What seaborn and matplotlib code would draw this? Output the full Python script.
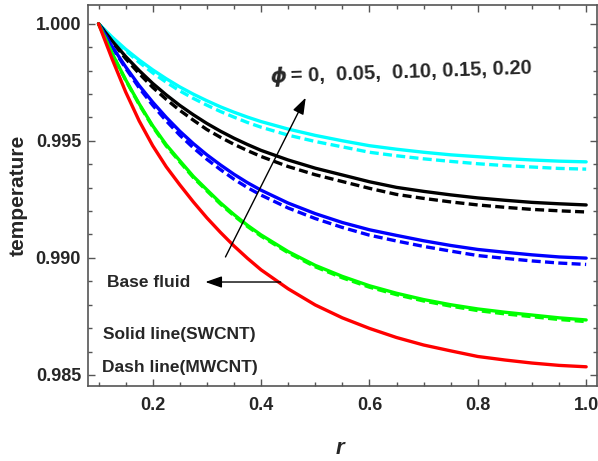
import numpy as np
import pandas as pd
import matplotlib
matplotlib.use("Agg")
import matplotlib.pyplot as plt
from matplotlib.ticker import MultipleLocator, FormatStrFormatter
import seaborn as sns

# dados
r = [0.100, 0.125, 0.150, 0.175, 0.200, 0.225, 0.250, 0.275, 0.300, 0.325, 0.350, 0.375,
     0.40, 0.45, 0.50, 0.55, 0.60, 0.65, 0.70, 0.75, 0.80, 0.85, 0.90, 0.95, 1.00]

base_fluid = [1.0, 0.99850, 0.99709, 0.99585, 0.99479, 0.99389, 0.99312, 0.99239, 0.99171, 0.99109,
              0.99051, 0.98998, 0.98949, 0.98868, 0.98799, 0.98744, 0.98699, 0.98660, 0.98628,
              0.98603, 0.98579, 0.98564, 0.98551, 0.98541, 0.98535]

green_swcnt = [1.0, 0.99874, 0.99761, 0.99658, 0.99564, 0.99483, 0.99415, 0.99348, 0.99291, 0.99235,
               0.99185, 0.99139, 0.99098, 0.99027, 0.98968, 0.98921, 0.98881, 0.98849, 0.98822,
               0.98800, 0.98782, 0.98768, 0.98756, 0.98744, 0.98735]
green_mwcnt = [1.0, 0.99872, 0.99759, 0.99655, 0.99560, 0.99478, 0.99410, 0.99343, 0.99286, 0.99230,
               0.99180, 0.99134, 0.99093, 0.99022, 0.98962, 0.98915, 0.98875, 0.98843, 0.98816,
               0.98794, 0.98775, 0.98761, 0.98749, 0.98737, 0.98728]

blue_swcnt = [1.0, 0.99903, 0.99816, 0.99736, 0.99665, 0.99600, 0.99541, 0.99488, 0.99440, 0.99397,
              0.99357, 0.99321, 0.99289, 0.99234, 0.99189, 0.99151, 0.99120, 0.99096, 0.99073,
              0.99053, 0.99036, 0.99024, 0.99013, 0.99004, 0.98999]
blue_mwcnt = [1.0, 0.99900, 0.99810, 0.99726, 0.99652, 0.99585, 0.99524, 0.99470, 0.99421, 0.99377,
              0.99336, 0.99300, 0.99268, 0.99213, 0.99168, 0.99130, 0.99097, 0.99072, 0.99049,
              0.99029, 0.99010, 0.98998, 0.98987, 0.98978, 0.98972]

black_swcnt = [1.0, 0.99927, 0.99860, 0.99800, 0.99745, 0.99696, 0.99651, 0.99611, 0.99574, 0.99541,
               0.99511, 0.99484, 0.99459, 0.99418, 0.99383, 0.99354, 0.99325, 0.99301, 0.99284,
               0.99269, 0.99256, 0.99246, 0.99237, 0.99231, 0.99226]
black_mwcnt = [1.0, 0.99923, 0.99851, 0.99787, 0.99728, 0.99677, 0.99630, 0.99588, 0.99548, 0.99515,
               0.99485, 0.99458, 0.99433, 0.99390, 0.99355, 0.99326, 0.99297, 0.99271, 0.99254,
               0.99239, 0.99226, 0.99216, 0.99207, 0.99201, 0.99196]

cyan_swcnt = [1.0, 0.99943, 0.99891, 0.99845, 0.99803, 0.99765, 0.99730, 0.99699, 0.99671, 0.99645,
              0.99622, 0.99601, 0.99582, 0.99550, 0.99523, 0.99500, 0.99479, 0.99464, 0.99451,
              0.99440, 0.99432, 0.99424, 0.99418, 0.99413, 0.99410]
cyan_mwcnt = [1.0, 0.99940, 0.99885, 0.99835, 0.99790, 0.99750, 0.99713, 0.99681, 0.99652, 0.99625,
              0.99601, 0.99578, 0.99558, 0.99524, 0.99497, 0.99474, 0.99451, 0.99436, 0.99423,
              0.99412, 0.99402, 0.99394, 0.99388, 0.99382, 0.99379]

y_ticks = [0.985, 0.990, 0.995, 1.000]
x_ticks = [0.2, 0.4, 0.6, 0.8, 1.0]

sns.set_style("ticks")
plt.rcParams['font.family'] = ['Liberation Sans', 'DejaVu Sans']
plt.rcParams['font.weight'] = 'bold'

fig = plt.figure(figsize=(5.98, 4.61), dpi=100)
ax = fig.add_axes([88 / 598, 1 - 386 / 461, (597 - 88) / 598, (386 - 4.7) / 461])

curves = [
    (cyan_swcnt, cyan_mwcnt, '#00FFFF'),
    (black_swcnt, black_mwcnt, '#000000'),
    (blue_swcnt, blue_mwcnt, '#0000FF'),
    (green_swcnt, green_mwcnt, '#00FF00'),
]
lw = 2.4
for solid, dash, cor in curves:
    sns.lineplot(x=r, y=solid, color=cor, linewidth=lw, ax=ax, sort=False)
    sns.lineplot(x=r, y=dash, color=cor, linewidth=lw, ax=ax, sort=False)
    ax.lines[-1].set_dashes([2.7, 1.3])
sns.lineplot(x=r, y=base_fluid, color='#FF0000', linewidth=lw, ax=ax, sort=False)

ax.set_xlim(0.0806, 1.02)
ax.set_ylim(0.98453, 1.00081)
ax.xaxis.set_minor_locator(MultipleLocator(0.05))
ax.yaxis.set_minor_locator(MultipleLocator(0.001))
ax.set_xticks(x_ticks)
ax.set_yticks(y_ticks)
ax.yaxis.set_major_formatter(FormatStrFormatter('%.3f'))
ax.xaxis.set_major_formatter(FormatStrFormatter('%.1f'))
ax.tick_params(which='both', direction='in', top=True, right=True, color='#555555', width=1)
ax.tick_params(which='major', length=5, labelsize=13)
ax.tick_params(axis='x', which='major', pad=8)
ax.tick_params(axis='y', which='major', pad=5)
ax.tick_params(which='minor', length=3)
for lab in ax.get_xticklabels() + ax.get_yticklabels():
    lab.set_fontweight('bold')
for s in ax.spines.values():
    s.set_color('#555555')
    s.set_linewidth(1.2)

# rótulos dos eixos
fig.text(18.5 / 598, 1 - 195 / 461, 'temperature', rotation=90, ha='center', va='center',
         fontsize=15, fontweight='bold')
fig.text(340 / 598, 1 - 448 / 461, 'r', ha='center', va='center', fontsize=16,
         fontweight='bold', fontstyle='italic')

# anotações
ax.text(0.1157, 0.98893, 'Base fluid', ha='left', va='center', fontsize=12.5, fontweight='bold')
ax.text(0.1083, 0.98671, 'Solid line(SWCNT)', ha='left', va='center', fontsize=12.5, fontweight='bold')
ax.text(0.1065, 0.98530, 'Dash line(MWCNT)', ha='left', va='center', fontsize=12.5, fontweight='bold')

ax.text(0.4176, 0.99748, '\u03d5', ha='left', va='baseline', fontsize=15, fontweight='bold',
        fontstyle='italic', family=['DejaVu Sans'], rotation=2, rotation_mode='anchor')
ax.text(0.4545, 0.99752, '= 0,  0.05,  0.10, 0.15, 0.20', ha='left', va='baseline',
        fontsize=14.5, fontweight='bold', rotation=2, rotation_mode='anchor')

ax.annotate('', xy=(0.4824, 0.99684), xytext=(0.3343, 0.99004),
            arrowprops=dict(arrowstyle='-|>,head_length=1.0,head_width=0.35', color='black',
                            lw=1.0, shrinkA=0, shrinkB=0))
ax.annotate('', xy=(0.2972, 0.98897), xytext=(0.4361, 0.98897),
            arrowprops=dict(arrowstyle='-|>,head_length=1.0,head_width=0.35', color='black',
                            lw=1.0, shrinkA=0, shrinkB=0))

fig.savefig('out.png', dpi=100)
